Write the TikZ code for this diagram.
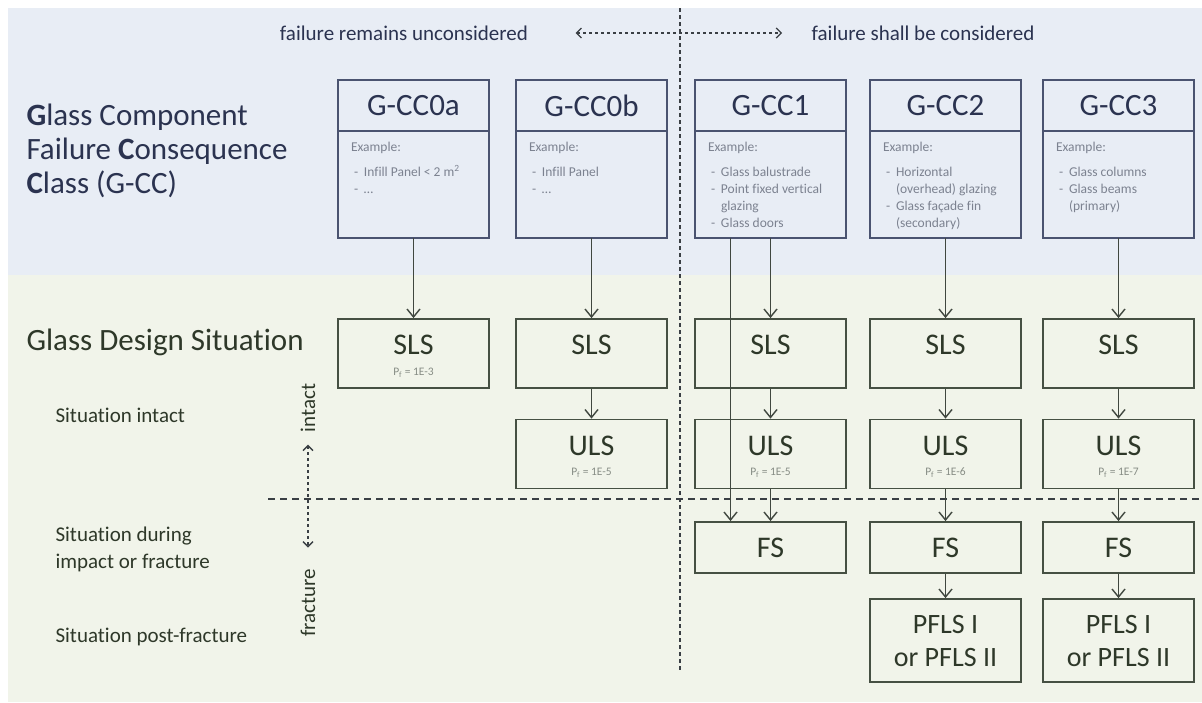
\documentclass[tikz,border=0pt]{standalone}
\usepackage{fontspec}
\setmainfont{Carlito}[Ligatures=NoCommon]
\usepackage{tikz}
\usetikzlibrary{positioning,arrows.meta}

\definecolor{topbg}{HTML}{E8EDF5}
\definecolor{botbg}{HTML}{F1F4EA}
\definecolor{topink}{HTML}{2B3350}
\definecolor{botink}{HTML}{2E3829}
\definecolor{topline}{HTML}{4A5370}
\definecolor{botline}{HTML}{465043}
\definecolor{arrline}{HTML}{40473F}
\definecolor{sepcol}{HTML}{3A3F44}
\definecolor{exgray}{HTML}{7C8290}
\definecolor{pfgray}{HTML}{868C84}

\newcommand{\exitem}[1]{\par\hangindent=13pt\hangafter=1\hspace*{3pt}\makebox[10pt][l]{-}#1}
\newcommand{\exbody}[1]{\parbox[t][107pt][t]{125pt}{\rule{0pt}{20pt}Example:\par\vspace{8.5pt}#1}}

\begin{document}
\begin{tikzpicture}[x=1pt,y=-1pt,
  ccbox/.style={draw=topline, line width=1.8pt, outer sep=0pt, minimum width=151pt,
    minimum height=51pt, text=topink, font=\fontsize{31}{36}\selectfont},
  exbox/.style={draw=topline, line width=1.8pt, outer sep=0pt, inner xsep=13pt,
    inner ysep=0pt, text=exgray, font=\fontsize{13.5}{17}\selectfont},
  sitbox/.style={draw=botline, line width=1.8pt, minimum width=151pt, text=botink,
    font=\fontsize{30}{36}\selectfont},
  upper/.style={minimum height=69pt, text height=21pt, text depth=18.6pt},
  fsbox/.style={sitbox, minimum height=51pt},
  pflsbox/.style={sitbox, minimum height=83pt, align=center, font=\fontsize{28}{33}\selectfont},
  pf/.style={text=pfgray, font=\fontsize{11.5}{13}\selectfont},
  headtxt/.style={anchor=west, align=left, text=topink, font=\fontsize{31}{34}\selectfont},
  sittxt/.style={anchor=west, align=left, text=botink, font=\fontsize{21}{27}\selectfont},
  arr/.style={draw=arrline, line width=1.4pt, -{Straight Barb[length=8pt,width=13pt]}},
  dasharr/.style={draw=sepcol, line width=1.3pt, dash pattern=on 3pt off 3pt,
    {Straight Barb[length=5pt,width=10pt]}-{Straight Barb[length=5pt,width=10pt]}},
  sepline/.style={draw=sepcol, line width=1.4pt, dash pattern=on 4pt off 3pt}
]
\useasboundingbox (0,0) rectangle (1202,702);
\fill[topbg] (8,8) rectangle (1202,275);
\fill[botbg] (8,275) rectangle (1202,702);

% separators
\draw[sepline] (680,8) -- (680,670);
\draw[sepline, dash pattern=on 7pt off 5pt] (268,499) -- (1202,499);

% left side texts
\node[headtxt] (gcc) at (23,151) {\textbf{G}lass Component\\Failure \textbf{C}onsequence\\\textbf{C}lass (G-CC)};
\node[headtxt, text=botink] (gds) at (23,342) {Glass Design Situation};
\node[sittxt] (sitint) at (52,415) {Situation intact};
\node[sittxt] (sitimp) at (52,549) {Situation during\\impact or fracture};
\node[sittxt] (sitpost) at (52,637) {Situation post-fracture};
\node[sittxt, anchor=center, rotate=90] (intact) at (308,408) {intact};
\node[sittxt, anchor=center, rotate=90] (fract) at (308,603) {fracture};
\node[sittxt, anchor=center, text=topink] (unc) at (404,33) {failure remains unconsidered};
\node[sittxt, anchor=center, text=topink] (con) at (923,33) {failure shall be considered};

\draw[dasharr, shorten <=44pt, shorten >=26pt] (unc) -- (con);
\draw[dasharr, shorten <=9pt, shorten >=18pt] (intact) -- (fract);

% consequence classes
\node[ccbox] (cc0a) at (413.5,105.5) {G-CC0a};
\node[ccbox] (cc0b) at (591.5,105.5) {G-CC0b};
\node[ccbox] (cc1)  at (770.5,105.5) {G-CC1};
\node[ccbox] (cc2)  at (945.5,105.5) {G-CC2};
\node[ccbox] (cc3)  at (1118.5,105.5) {G-CC3};

\node[exbox, below=0pt of cc0a] (ex0a) {\exbody{\exitem{Infill Panel < 2 m\textsuperscript{2}}\exitem{…}}};
\node[exbox, below=0pt of cc0b] (ex0b) {\exbody{\exitem{Infill Panel}\exitem{…}}};
\node[exbox, below=0pt of cc1]  (ex1)  {\exbody{\exitem{Glass balustrade}\exitem{Point fixed vertical\\glazing}\exitem{Glass doors}}};
\node[exbox, below=0pt of cc2]  (ex2)  {\exbody{\exitem{Horizontal\\(overhead) glazing}\exitem{Glass façade fin\\(secondary)}}};
\node[exbox, below=0pt of cc3]  (ex3)  {\exbody{\exitem{Glass columns}\exitem{Glass beams\\(primary)}}};

% design situations
\node[sitbox, upper] (sls0a) at (413.5,353.5) {SLS};
\node[sitbox, upper] (sls0b) at (591.5,353.5) {SLS};
\node[sitbox, upper] (sls1)  at (770.5,353.5) {SLS};
\node[sitbox, upper] (sls2)  at (945.5,353.5) {SLS};
\node[sitbox, upper] (sls3)  at (1118.5,353.5) {SLS};
\node[pf] (pf0a) at (413.5,373) {P\textsubscript{f} = 1E-3};

\node[sitbox, upper] (uls0b) at (591.5,454) {ULS};
\node[sitbox, upper] (uls1)  at (770.5,454) {ULS};
\node[sitbox, upper] (uls2)  at (945.5,454) {ULS};
\node[sitbox, upper] (uls3)  at (1118.5,454) {ULS};
\node[pf] (pf0b) at (591.5,473) {P\textsubscript{f} = 1E-5};
\node[pf] (pf1)  at (770.5,473) {P\textsubscript{f} = 1E-5};
\node[pf] (pf2)  at (945.5,473) {P\textsubscript{f} = 1E-6};
\node[pf] (pf3)  at (1118.5,473) {P\textsubscript{f} = 1E-7};

\node[fsbox] (fs1) at (770.5,547.5) {FS};
\node[fsbox] (fs2) at (945.5,547.5) {FS};
\node[fsbox] (fs3) at (1118.5,547.5) {FS};

\node[pflsbox] (pfls2) at (945.5,640.5) {PFLS I\\or PFLS II};
\node[pflsbox] (pfls3) at (1118.5,640.5) {PFLS I\\or PFLS II};

\draw[arr] (ex0a) -- (sls0a);
\draw[arr] (ex0b) -- (sls0b);
\draw[arr] (sls0b) -- (uls0b);
\draw[arr] (ex1) -- (sls1);
\draw[arr] (sls1) -- (uls1);
\draw[arr] (uls1) -- (fs1);
\draw[arr] ([xshift=-40pt]ex1.south) -- ([xshift=-40pt]fs1.north);
\draw[arr] (ex2) -- (sls2);
\draw[arr] (sls2) -- (uls2);
\draw[arr] (uls2) -- (fs2);
\draw[arr] (fs2) -- (pfls2);
\draw[arr] (ex3) -- (sls3);
\draw[arr] (sls3) -- (uls3);
\draw[arr] (uls3) -- (fs3);
\draw[arr] (fs3) -- (pfls3);

\end{tikzpicture}
\end{document}
